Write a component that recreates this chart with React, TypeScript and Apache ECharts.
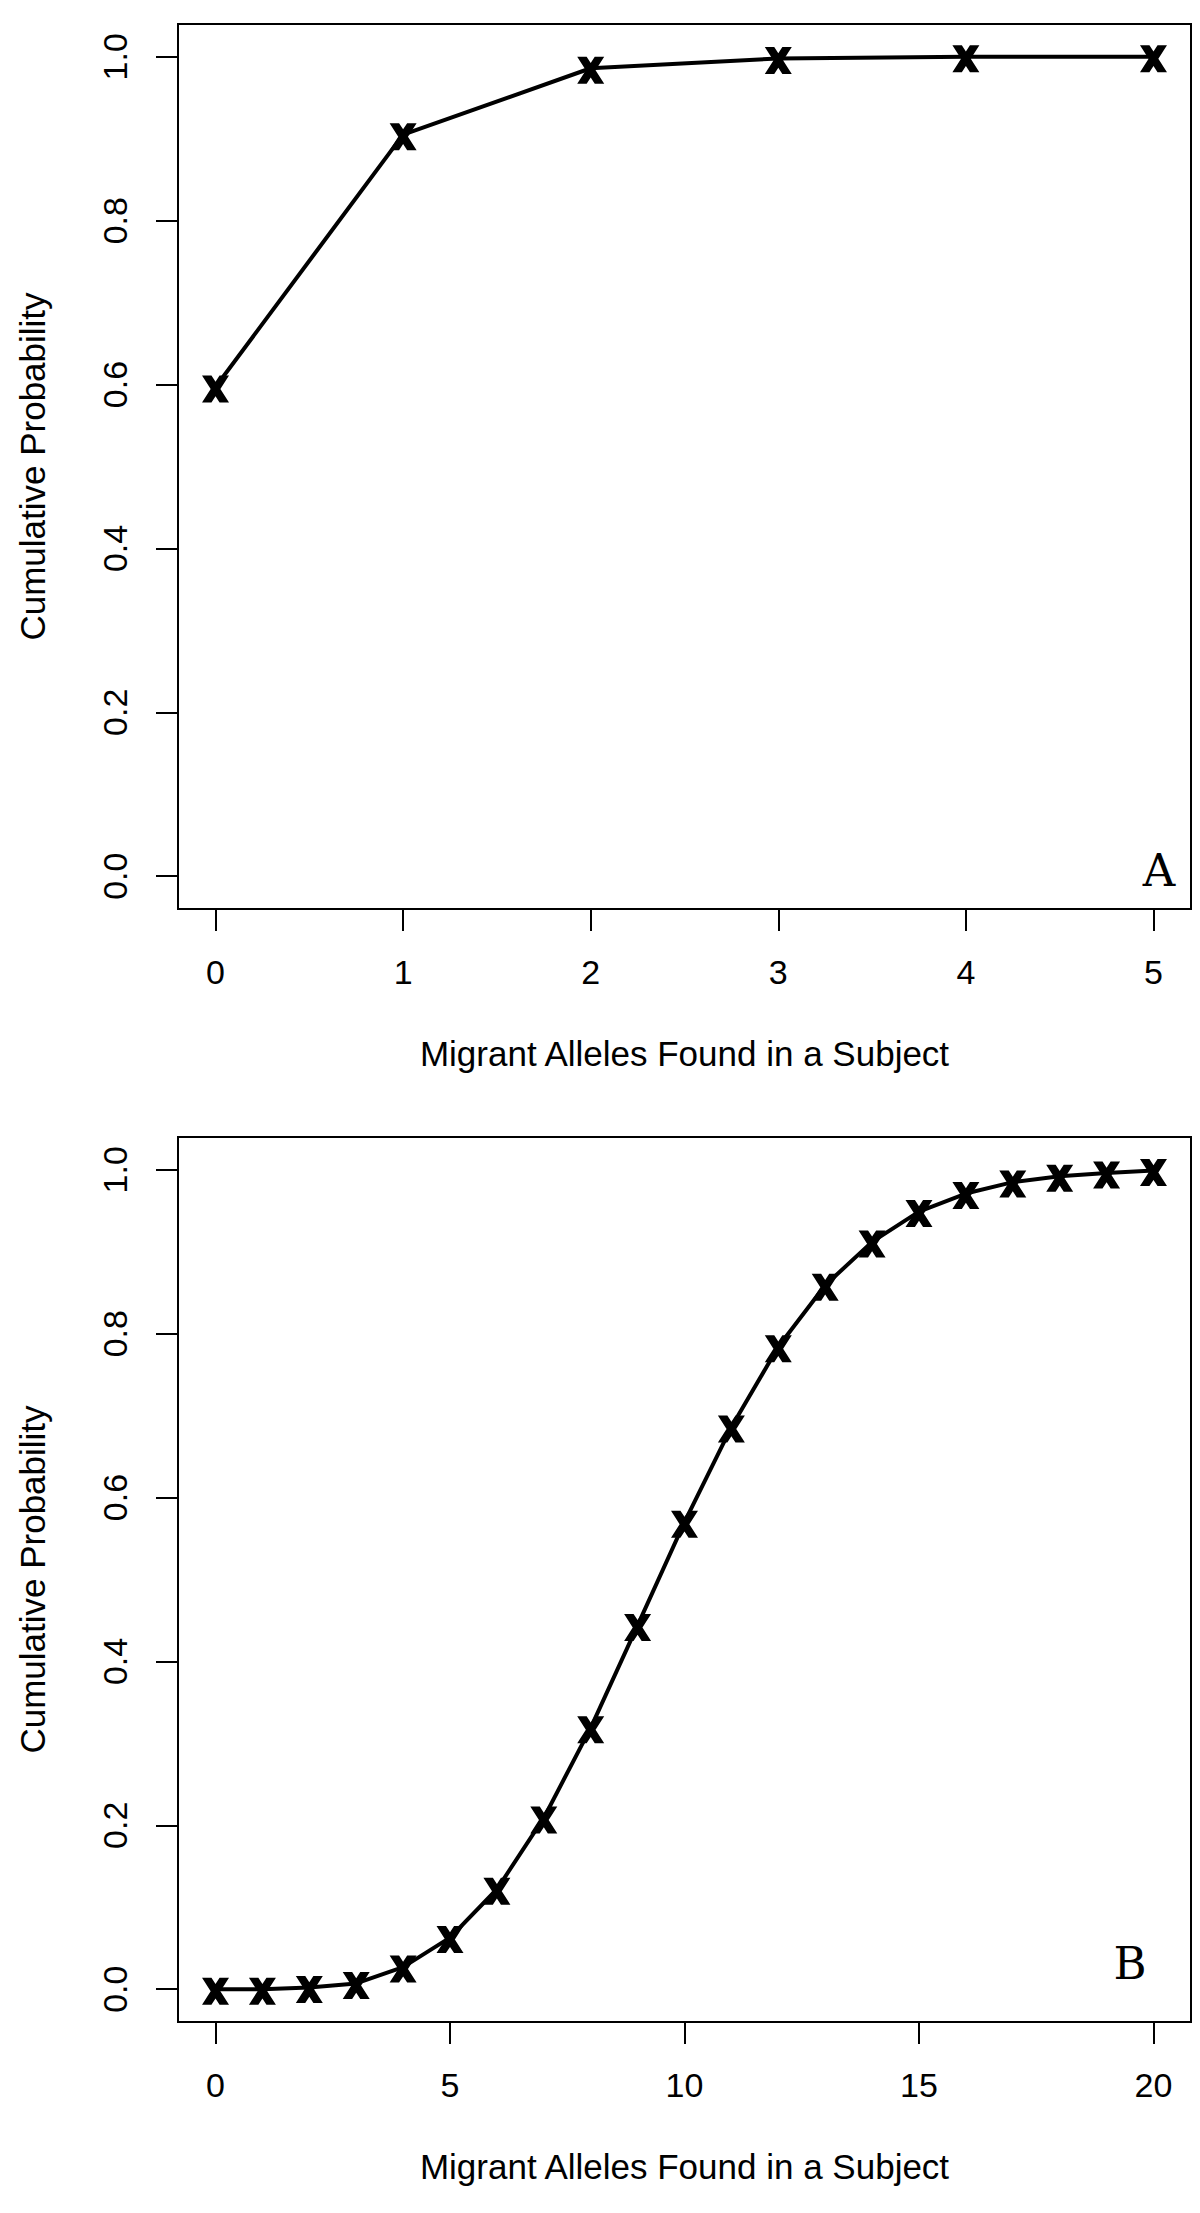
import React, { useEffect, useRef } from "react";
import * as echarts from "echarts";

// ---- data ----
const countsA = [0, 1, 2, 3, 4, 5];
const cumProbA = [0.597, 0.905, 0.986, 0.998, 1.0, 1.0];

const countsB = [0, 1, 2, 3, 4, 5, 6, 7, 8, 9, 10, 11, 12, 13, 14, 15, 16, 17, 18, 19, 20];
const cumProbB = [
  0.0, 0.0, 0.002, 0.007, 0.027, 0.063, 0.122, 0.209, 0.319, 0.444, 0.57,
  0.686, 0.784, 0.859, 0.912, 0.949, 0.971, 0.985, 0.992, 0.996, 0.999,
];

const xTicksA = [0, 1, 2, 3, 4, 5];
const xTicksB = [0, 5, 10, 15, 20];
const yTicks = [0, 0.2, 0.4, 0.6, 0.8, 1.0];
const panelLabels = ["A", "B"];
const xTitle = "Migrant Alleles Found in a Subject";
const yTitle = "Cumulative Probability";

const FONT = '"Liberation Sans", Arial, Helvetica, sans-serif';
const X_SYMBOL =
  "path://M0,0L35,0L50,23L65,0L100,0L68,50L100,100L65,100L50,77L35,100L0,100L32,50Z";

function pad(ticks: number[]) {
  const lo = ticks[0];
  const hi = ticks[ticks.length - 1];
  const d = (hi - lo) * 0.04;
  return [lo - d, hi + d];
}

export default function App() {
  const ref = useRef<HTMLDivElement>(null);

  useEffect(() => {
    if (!ref.current) return;
    const chart = echarts.init(ref.current, undefined, { renderer: "svg" });

    const gridTops = [24, 1137];
    const xTicksList = [xTicksA, xTicksB];
    const seriesData = [
      countsA.map((c, i) => [c, cumProbA[i]]),
      countsB.map((c, i) => [c, cumProbB[i]]),
    ];
    const [yMin, yMax] = pad(yTicks);

    const grids = gridTops.map((top) => ({
      left: 178,
      top,
      width: 1013,
      height: 885,
      show: true,
      borderColor: "#000",
      borderWidth: 2,
      backgroundColor: "transparent",
    }));

    const xAxes = xTicksList.map((ticks, i) => {
      const [mn, mx] = pad(ticks);
      return {
        type: "value",
        gridIndex: i,
        position: "bottom",
        min: mn,
        max: mx,
        axisLine: { show: false, onZero: false },
        splitLine: { show: false },
        axisTick: {
          show: true,
          inside: false,
          length: 22,
          customValues: ticks,
          lineStyle: { color: "#000", width: 2 },
        },
        axisLabel: {
          customValues: ticks,
          margin: 46,
          fontSize: 34,
          color: "#000",
          fontFamily: FONT,
          formatter: (v: number) => String(v),
        },
        name: xTitle,
        nameLocation: "middle",
        nameGap: 127,
        nameTextStyle: { fontSize: 35, color: "#000", fontFamily: FONT },
      };
    });

    const yAxes = gridTops.map((_, i) => ({
      type: "value",
      gridIndex: i,
      position: "left",
      min: yMin,
      max: yMax,
      axisLine: { show: false, onZero: false },
      splitLine: { show: false },
      axisTick: {
        show: true,
        inside: false,
        length: 22,
        customValues: yTicks,
        lineStyle: { color: "#000", width: 2 },
      },
      axisLabel: {
        customValues: yTicks,
        rotate: 90,
        margin: 46,
        fontSize: 34,
        color: "#000",
        fontFamily: FONT,
        formatter: (v: number) => v.toFixed(1),
      },
      name: yTitle,
      nameLocation: "middle",
      nameGap: 128,
      nameTextStyle: { fontSize: 35, color: "#000", fontFamily: FONT },
    }));

    const series = seriesData.map((data, i) => ({
      type: "line",
      xAxisIndex: i,
      yAxisIndex: i,
      data,
      symbol: X_SYMBOL,
      symbolSize: [27, 27],
      symbolOffset: [0, 2],
      showSymbol: true,
      itemStyle: { color: "#000" },
      lineStyle: { color: "#000", width: 4 },
      clip: false,
      silent: true,
    }));

    const labelPos = [
      [1159, 870],
      [1130, 1963],
    ];
    const graphic = panelLabels.map((t, i) => ({
      type: "text",
      x: labelPos[i][0],
      y: labelPos[i][1],
      style: {
        text: t,
        font: '45px "DejaVu Serif", serif',
        fill: "#000",
        align: "center",
        verticalAlign: "middle",
      },
    }));

    chart.setOption({
      animation: false,
      backgroundColor: "#fff",
      grid: grids,
      xAxis: xAxes,
      yAxis: yAxes,
      series,
      graphic,
    } as any);

    return () => chart.dispose();
  }, []);

  return (
    <div
      ref={ref}
      style={{ position: "absolute", left: 0, top: 0, width: 1200, height: 2213, background: "#fff" }}
    />
  );
}
